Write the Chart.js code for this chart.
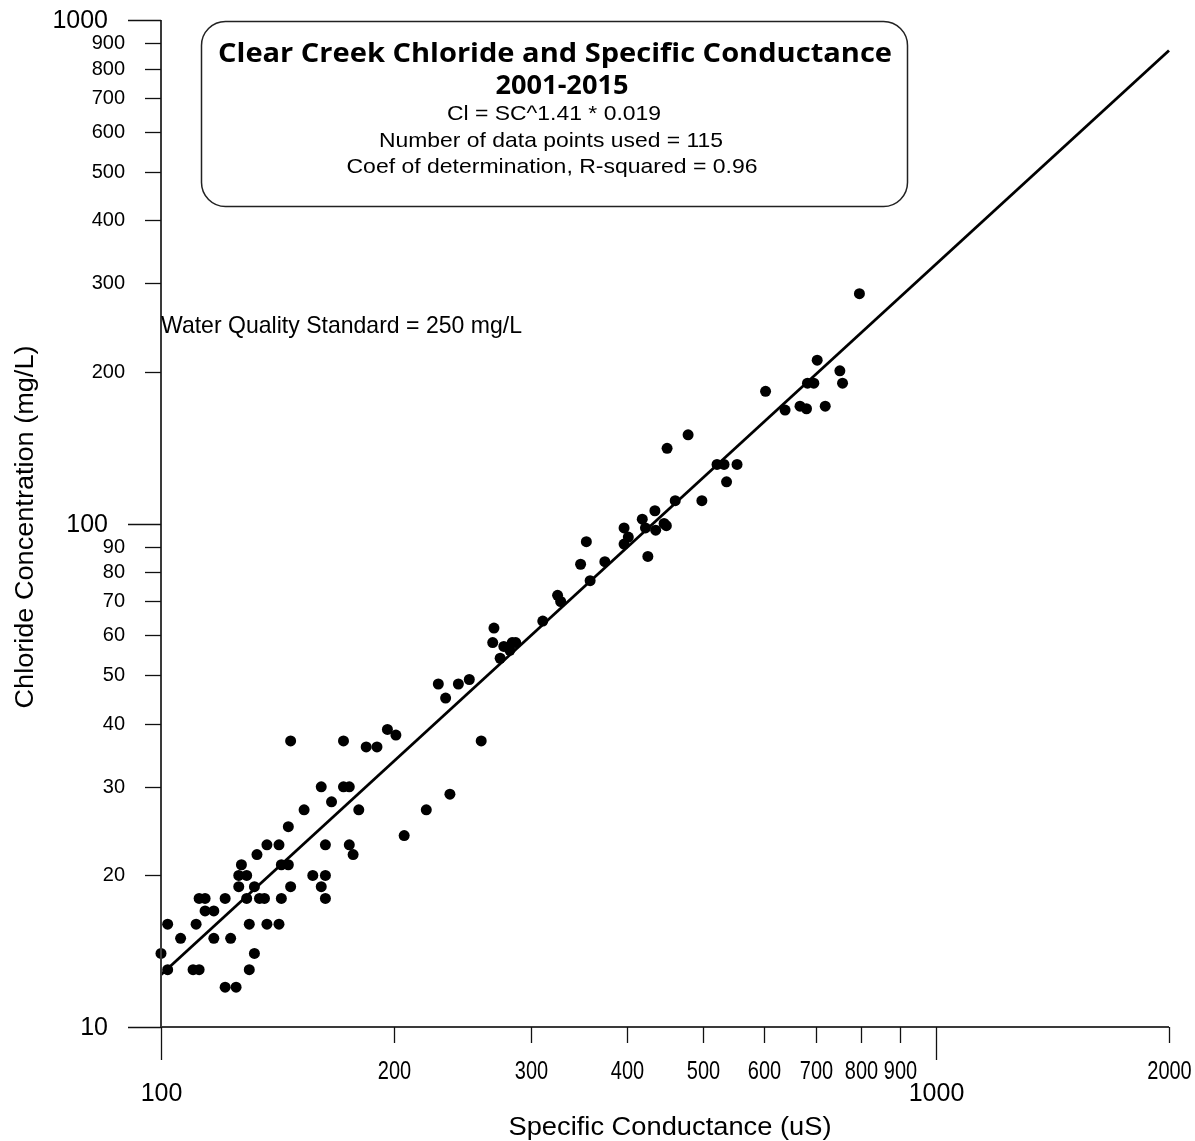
<!DOCTYPE html>
<html>
<head>
<meta charset="utf-8">
<script src="https://cdn.jsdelivr.net/npm/chart.js@4"></script>
<style>
  html, body { margin: 0; padding: 0; background: #fff; }
  #wrap { width: 1195px; height: 1141px; }
</style>
</head>
<body>
<div id="wrap"><canvas id="chart" width="1195" height="1141"></canvas></div>
<script>
// Data
const sc = [147, 172, 184, 190, 196, 201, 161, 172, 175, 166, 153, 180, 146, 137, 142, 163, 175, 177, 133, 127,
            126, 129, 143, 146, 157, 163, 161, 163, 126, 132, 147, 112, 114, 121, 129, 134, 136, 143, 114, 117,
            102, 111, 130, 137, 142, 106, 117, 123, 100, 132, 102, 110, 112, 130, 121, 125,
            269, 268, 228, 242, 250, 233, 274, 277, 284, 287, 282, 259, 236, 220, 206,
            479, 450, 522, 533, 554, 537, 461, 499, 434, 418, 396, 401, 396, 422, 435, 446, 449, 425,
            354, 348, 374, 358, 325, 328, 311,
            797, 703, 752, 758, 683, 696, 603, 639, 668, 681, 720];
const cl = [37, 37, 36, 36, 39, 38, 30, 30, 30, 28, 27, 27, 25, 23, 23, 23, 23, 22, 22, 21,
            20, 20, 21, 21, 20, 20, 19, 18, 19, 19, 19, 18, 18, 18, 18, 18, 18, 18, 17, 17,
            16, 16, 16, 16, 16, 15, 15, 15, 14, 14, 13, 13, 13, 13, 12, 12,
            62, 58, 48, 48, 49, 45, 54, 57, 58, 58, 56, 37, 29, 27, 24,
            150, 141, 131, 131, 131, 121, 111, 111, 106, 102, 98, 94, 91, 98, 97, 100, 99, 86,
            92, 83, 84, 77, 72, 70, 64,
            286, 211, 201, 190, 190, 190, 183, 168, 171, 169, 171];

// regression line end points
const trendSC = [100, 2000];
const trendCl = [12.7, 870];

const xMajorTicks = [100, 1000];
const xMinorTicks = [200, 300, 400, 500, 600, 700, 800, 900, 2000];
const yMajorTicks = [10, 100, 1000];
const yMinorTicks = [20, 30, 40, 50, 60, 70, 80, 90, 200, 300, 400, 500, 600, 700, 800, 900];

const wqsValue = 250;

const titleLines = ['Clear Creek Chloride and Specific Conductance', '2001-2015'];
const infoLines = ['Cl = SC^1.41 * 0.019', 'Number of data points used = 115', 'Coef of determination, R-squared = 0.96'];

const SANS = '"Liberation Sans", Arial, sans-serif';

// draw text, optionally squeezed/stretched to a given width
function txt(ctx, s, x, y, font, align, w) {
    ctx.font = font;
    const sx = w ? w / ctx.measureText(s).width : 1;
    ctx.save();
    ctx.translate(x, y);
    ctx.scale(sx, 1);
    ctx.textAlign = align;
    ctx.textBaseline = 'middle';
    ctx.fillText(s, 0, 0);
    ctx.restore();
}

const decorations = {
    id: 'decorations',
    afterDraw(chart) {
        const ctx = chart.ctx;
        const xs = chart.scales.x, ys = chart.scales.y;
        const a = chart.chartArea;
        ctx.save();
        ctx.fillStyle = '#000';

        // axis lines
        ctx.strokeStyle = '#3a3a3a';
        ctx.lineWidth = 2;
        ctx.beginPath();
        ctx.moveTo(a.left, a.top);
        ctx.lineTo(a.left, a.bottom);
        ctx.lineTo(a.right, a.bottom);
        ctx.stroke();

        // y ticks
        ctx.strokeStyle = '#111';
        ctx.lineWidth = 1.3;
        yMajorTicks.forEach(v => {
            const p = Math.round(ys.getPixelForValue(v)) + 0.5;
            ctx.beginPath(); ctx.moveTo(a.left - 33, p); ctx.lineTo(a.left, p); ctx.stroke();
            txt(ctx, String(v), a.left - 53, p + 1, '25px ' + SANS, 'right');
        });
        yMinorTicks.forEach(v => {
            const p = Math.round(ys.getPixelForValue(v)) + 0.5;
            ctx.beginPath(); ctx.moveTo(a.left - 16, p); ctx.lineTo(a.left, p); ctx.stroke();
            txt(ctx, String(v), a.left - 36, p, '20px ' + SANS, 'right');
        });

        // x ticks
        xMajorTicks.forEach(v => {
            const p = Math.round(xs.getPixelForValue(v)) + 0.5;
            ctx.beginPath(); ctx.moveTo(p, a.bottom); ctx.lineTo(p, a.bottom + 33); ctx.stroke();
            txt(ctx, String(v), p, a.bottom + 67, '25px ' + SANS, 'center');
        });
        xMinorTicks.forEach(v => {
            const p = Math.round(xs.getPixelForValue(v)) + 0.5;
            ctx.beginPath(); ctx.moveTo(p, a.bottom); ctx.lineTo(p, a.bottom + 16); ctx.stroke();
            ctx.font = '25px ' + SANS;
            const w = ctx.measureText(String(v)).width * 0.8;
            txt(ctx, String(v), p, a.bottom + 45, '25px ' + SANS, 'center', w);
        });

        // axis titles
        txt(ctx, 'Specific Conductance (uS)', (a.left + a.right) / 2 + 5, 1128, '25px ' + SANS, 'center', 323);
        ctx.save();
        ctx.translate(26, 527);
        ctx.rotate(-Math.PI / 2);
        txt(ctx, 'Chloride Concentration (mg/L)', 0, 0, '25px ' + SANS, 'center', 363);
        ctx.restore();

        // water quality standard label
        txt(ctx, 'Water Quality Standard = 250 mg/L', a.left, ys.getPixelForValue(wqsValue) + 3,
            '24px ' + SANS, 'left', 361);

        // title box
        ctx.strokeStyle = '#222';
        ctx.lineWidth = 1.5;
        ctx.beginPath();
        ctx.roundRect(201.5, 21.5, 706, 185, 24);
        ctx.stroke();
        txt(ctx, titleLines[0], 555, 54, 'bold 27px "Open Sans", "DejaVu Sans", sans-serif', 'center', 674);
        txt(ctx, titleLines[1], 562, 86, 'bold 27px "Open Sans", "DejaVu Sans", sans-serif', 'center', 133);
        txt(ctx, infoLines[0], 554, 114, '21px ' + SANS, 'center', 214);
        txt(ctx, infoLines[1], 551, 141, '21px ' + SANS, 'center', 344);
        txt(ctx, infoLines[2], 552, 167, '21px ' + SANS, 'center', 411);
        ctx.restore();
    }
};

const ctx = document.getElementById('chart').getContext('2d');
const chart = new Chart(ctx, {
    type: 'scatter',
    data: {
        datasets: [{
            label: 'Chloride',
            data: sc.map((x, i) => ({ x: x, y: cl[i] })),
            backgroundColor: '#000',
            borderColor: '#000',
            pointRadius: 5.5,
            pointBorderWidth: 0,
            clip: false
        }, {
            type: 'line',
            label: 'Fit',
            data: trendSC.map((x, i) => ({ x: x, y: trendCl[i] })),
            borderColor: '#000',
            borderWidth: 2.8,
            pointRadius: 0,
            fill: false,
            clip: false
        }]
    },
    options: {
        responsive: false,
        animation: false,
        layout: { padding: { top: 20, right: 26, left: 0, bottom: 0 } },
        plugins: {
            legend: { display: false },
            tooltip: { enabled: false }
        },
        scales: {
            x: {
                type: 'logarithmic',
                min: 100,
                max: 2000,
                grid: { display: false },
                border: { display: false },
                ticks: { display: false },
                afterFit: s => { s.height = 114; }
            },
            y: {
                type: 'logarithmic',
                min: 10,
                max: 1000,
                grid: { display: false },
                border: { display: false },
                ticks: { display: false },
                afterFit: s => { s.width = 161; }
            }
        }
    },
    plugins: [decorations]
});
</script>
</body>
</html>
